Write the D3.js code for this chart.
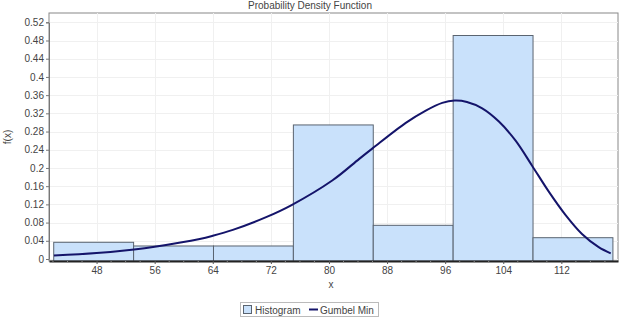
<!DOCTYPE html>
<html><head><meta charset="utf-8">
<script src="https://cdn.jsdelivr.net/npm/d3@7"></script>
<style>
html,body{margin:0;padding:0;background:#fff;}
svg text{font-family:"Liberation Sans",Arial,sans-serif;}
</style></head>
<body><svg id="c" width="627" height="318"></svg>
<script>
// Histogram bins (edges) and relative frequencies
const binEdges = [42.1, 53.1, 64.1, 75.1, 86.1, 97.1, 108.1, 119.1];
const binValues = [0.0367, 0.0286, 0.0286, 0.2945, 0.074, 0.491, 0.0468];
// Gumbel Min fitted curve
const curveX = [42.13, 48, 53.17, 56, 62.2, 64, 66.76, 71.35, 74.79, 80.5, 84.17, 86.0, 90.58, 93.33, 95.6, 97.3, 99.0, 101.1, 103.4, 105.7, 107.97, 110.27, 112.56, 114.84, 117.14, 118.8];
const curveY = [0.0075, 0.013, 0.021, 0.027, 0.044, 0.051, 0.064, 0.092, 0.118, 0.173, 0.22, 0.243, 0.299, 0.326, 0.343, 0.348, 0.345, 0.331, 0.302, 0.26, 0.205, 0.148, 0.097, 0.055, 0.026, 0.0125];
const xTicks = [48, 56, 64, 72, 80, 88, 96, 104, 112];
const yTicks = [0, 0.04, 0.08, 0.12, 0.16, 0.2, 0.24, 0.28, 0.32, 0.36, 0.4, 0.44, 0.48, 0.52];
const title = "Probability Density Function";
const xLabel = "x", yLabel = "f(x)";
const legendItems = ["Histogram", "Gumbel Min"];

const svg = d3.select("#c");
const L = 49, R = 618, T = 13, B = 261;
const x = d3.scaleLinear().domain([41.45, 119.8]).range([L, R]);
const y = d3.scaleLinear().domain([0, 0.52]).range([259, 22.3]);

// plot background
svg.append("rect").attr("x", L).attr("y", T).attr("width", R - L).attr("height", B - T)
  .attr("fill", "#fff").attr("stroke", "#888").attr("stroke-width", 1);

// gridlines
svg.append("g").selectAll("line").data(yTicks).join("line")
  .attr("x1", L).attr("x2", R).attr("y1", d => Math.round(y(d)) + 0.5).attr("y2", d => Math.round(y(d)) + 0.5)
  .attr("stroke", "#f0f0f0").attr("stroke-width", 1);
svg.append("g").selectAll("line").data(xTicks).join("line")
  .attr("y1", T).attr("y2", B).attr("x1", d => Math.round(x(d)) + 0.5).attr("x2", d => Math.round(x(d)) + 0.5)
  .attr("stroke", "#f0f0f0").attr("stroke-width", 1);

// bars
const bins = binValues.map((v, i) => ({x0: binEdges[i], x1: binEdges[i + 1], v}));
svg.append("g").selectAll("rect").data(bins).join("rect")
  .attr("x", d => x(d.x0)).attr("width", d => x(d.x1) - x(d.x0))
  .attr("y", d => y(d.v)).attr("height", d => B - y(d.v))
  .attr("fill", "#c9e1fb").attr("stroke", "#5a6470").attr("stroke-width", 1);

// curve
const line = d3.line().x(d => x(d[0])).y(d => y(d[1])).curve(d3.curveCatmullRom.alpha(0.5));
svg.append("path").datum(curveX.map((v, i) => [v, curveY[i]]))
  .attr("d", line).attr("fill", "none").attr("stroke", "#14146a").attr("stroke-width", 2);

// axes
const yAxis = svg.append("g").attr("transform", `translate(${L},0)`)
  .call(d3.axisLeft(y).tickValues(yTicks).tickFormat(d => d3.format("")(+d.toFixed(2))).tickSize(3).tickPadding(2));
yAxis.select(".domain").attr("stroke", "#777");
yAxis.selectAll(".tick line").attr("stroke", "#777");
yAxis.selectAll("text").attr("font-size", 10).attr("fill", "#444");

const xAxis = svg.append("g").attr("transform", `translate(0,${B})`)
  .call(d3.axisBottom(x).tickValues(xTicks).tickSize(3).tickPadding(3).tickSizeOuter(0));
xAxis.select(".domain").attr("stroke", "#222").attr("stroke-width", 2);
xAxis.selectAll(".tick line").attr("stroke", "#555");
xAxis.selectAll("text").attr("font-size", 10).attr("fill", "#444");
// minor ticks
const minor = d3.range(42, 120, 2).filter(v => !xTicks.includes(v));
svg.append("g").selectAll("line").data(minor).join("line")
  .attr("x1", d => x(d)).attr("x2", d => x(d)).attr("y1", B).attr("y2", B + 2)
  .attr("stroke", "#888");

// title & labels
svg.append("text").attr("x", 310).attr("y", 9).attr("text-anchor", "middle")
  .attr("font-size", 10).attr("fill", "#444").text(title);
svg.append("text").attr("x", 331).attr("y", 288).attr("text-anchor", "middle")
  .attr("font-size", 10).attr("fill", "#444").text(xLabel);
svg.append("text").attr("transform", "translate(11,137) rotate(-90)").attr("text-anchor", "middle")
  .attr("font-size", 10).attr("fill", "#444").text(yLabel);

// legend
const lg = svg.append("g");
lg.append("rect").attr("x", 240.5).attr("y", 302.5).attr("width", 138).attr("height", 14)
  .attr("fill", "#fff").attr("stroke", "#bbb");
lg.append("rect").attr("x", 243.5).attr("y", 305.5).attr("width", 8).attr("height", 8)
  .attr("fill", "#c9e1fb").attr("stroke", "#5a6470");
lg.append("text").attr("x", 255).attr("y", 313.5).attr("font-size", 10).attr("fill", "#444").text(legendItems[0]);
lg.append("line").attr("x1", 309).attr("x2", 318).attr("y1", 309.5).attr("y2", 309.5)
  .attr("stroke", "#14146a").attr("stroke-width", 2);
lg.append("text").attr("x", 320).attr("y", 313.5).attr("font-size", 10).attr("fill", "#444").text(legendItems[1]);
</script></body></html>
